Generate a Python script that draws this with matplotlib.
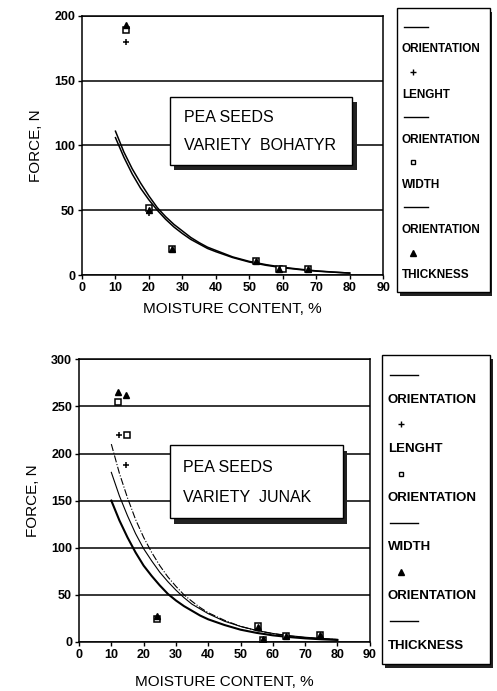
import matplotlib
matplotlib.use("Agg")
import matplotlib.pyplot as plt
from matplotlib.patches import Rectangle

plt.rcParams['font.family'] = ['Liberation Sans', 'DejaVu Sans']

# ---- data ----
curve_x = [10, 12.5, 15, 17.5, 20, 22.5, 25, 27.5, 30, 32.5, 35, 37.5, 40,
           45, 50, 55, 60, 65, 70, 75, 80]

# Bohatyr (top panel)
boh_fit_a = [111, 95, 82, 71, 61, 52, 45, 39, 34, 29, 25, 21.5, 19,
             14, 10.5, 8, 6, 4.5, 3.2, 2.3, 1.5]
boh_fit_b = [106, 91, 78, 67, 58, 50, 43, 37, 32, 27.5, 24, 20.5, 18,
             13.5, 10, 7.5, 5.6, 4.2, 3.0, 2.2, 1.5]
boh_len_x = [13, 20, 27, 52, 59, 67.5]
boh_len_y = [180, 48, 20, 11, 5, 5]
boh_wid_x = [13, 20, 27, 52, 59, 60, 67.5]
boh_wid_y = [189, 52, 20, 11, 5, 4.5, 5]
boh_thk_x = [13, 20, 27, 52, 59, 67.5]
boh_thk_y = [193, 50, 20, 11, 5, 5]

# Junak (bottom panel)
jun_fit_a = [150, 129, 111, 95, 81, 70, 60, 51, 44, 38, 33, 28, 24,
             18, 13, 9.6, 7, 5.2, 3.8, 2.8, 2.1]
jun_fit_b = [180, 155, 134, 115, 99, 86, 74, 64, 55, 47, 40, 35, 30,
             22, 16.5, 12.2, 9, 6.7, 5, 3.7, 2.7]
jun_fit_c = [210, 179, 153, 130, 111, 95, 81, 69, 59, 50, 43, 36.5, 31,
             23, 16.5, 12, 8.8, 6.4, 4.6, 3.4, 2.5]
jun_len_x = [12.5, 14.5, 24, 55.5, 64, 74.5]
jun_len_y = [220, 188, 25, 17, 6, 7.5]
jun_wid_x = [12, 15, 24, 55.5, 57, 64, 74.5]
jun_wid_y = [255, 220, 24, 17, 2, 6, 7.5]
jun_thk_x = [12, 14.5, 24, 55.5, 57, 64, 74.5]
jun_thk_y = [265, 262, 28, 16, 3, 6, 7]

x_ticks = [0, 10, 20, 30, 40, 50, 60, 70, 80, 90]
boh_yticks = [0, 50, 100, 150, 200]
jun_yticks = [0, 50, 100, 150, 200, 250, 300]

boh_legend = ['line', 'ORIENTATION', 'plus', 'LENGHT', 'line', 'ORIENTATION',
              'square', 'WIDTH', 'line', 'ORIENTATION', 'tri', 'THICKNESS']
jun_legend = ['line', 'ORIENTATION', 'plus', 'LENGHT', 'square', 'ORIENTATION',
              'line', 'WIDTH', 'tri', 'ORIENTATION', 'line', 'THICKNESS']

fig = plt.figure(figsize=(4.97, 6.91), dpi=100)


def setup_axes(ax, yticks, ymax, xpad):
    ax.set_xlim(0, 90)
    ax.set_ylim(0, ymax)
    ax.set_xticks(x_ticks)
    ax.set_yticks(yticks)
    for y in yticks:
        ax.axhline(y, color='black', lw=1.1, zorder=1)
    for s in ax.spines.values():
        s.set_linewidth(1.1)
    ax.tick_params(axis='both', labelsize=9, width=1.0, length=3, pad=2)
    for lbl in ax.get_xticklabels() + ax.get_yticklabels():
        lbl.set_fontweight('bold')
    ax.set_ylabel('FORCE, N', fontsize=11, labelpad=8)
    ax.set_xlabel('MOISTURE CONTENT, %', fontsize=11, labelpad=xpad)


def draw_points(ax, lx, ly, wx, wy, tx, ty):
    ax.plot(lx, ly, '+', color='black', ms=4.5, mew=1.1, zorder=3)
    ax.plot(wx, wy, 's', mfc='white', mec='black', ms=4.5, mew=1.1, zorder=3)
    ax.plot(tx, ty, '^', color='black', ms=5, zorder=3)


def text_box(ax, x0, y0, w, h, lines):
    ax.add_patch(Rectangle((x0 + 0.015, y0 - 0.02), w, h, transform=ax.transAxes,
                           facecolor='#222222', edgecolor='none', zorder=4))
    ax.add_patch(Rectangle((x0, y0), w, h, transform=ax.transAxes,
                           facecolor='white', edgecolor='black', lw=1.0, zorder=5))
    ax.text(x0 + 0.045, y0 + h * 0.7, lines[0], transform=ax.transAxes,
            fontsize=11.5, va='center', zorder=6)
    ax.text(x0 + 0.045, y0 + h * 0.28, lines[1], transform=ax.transAxes,
            fontsize=11.5, va='center', zorder=6)


def legend_panel(rect, entries, fsize):
    lax = fig.add_axes(rect)
    lax.set_xlim(0, 1)
    lax.set_ylim(0, 1)
    lax.axis('off')
    lax.add_patch(Rectangle((0.03, -0.012), 0.98, 1.0, transform=lax.transAxes,
                            facecolor='#222222', edgecolor='none', clip_on=False))
    lax.add_patch(Rectangle((0, 0), 0.98, 1.0, transform=lax.transAxes,
                            facecolor='white', edgecolor='black', lw=1.0, clip_on=False))
    n = len(entries)
    top, bot = 0.935, 0.06
    step = (top - bot) / (n - 1)
    for i, e in enumerate(entries):
        y = top - i * step
        if e == 'line':
            lax.plot([0.07, 0.33], [y, y], color='black', lw=1.0)
        elif e == 'plus':
            lax.plot([0.17], [y], '+', color='black', ms=4, mew=1.0)
        elif e == 'square':
            lax.plot([0.17], [y], 's', mfc='white', mec='black', ms=3.5, mew=1.0)
        elif e == 'tri':
            lax.plot([0.17], [y], '^', color='black', ms=4.5)
        else:
            lax.text(0.05, y, e, fontsize=fsize, fontweight='bold', va='center')


# top panel: Bohatyr
ax1 = fig.add_axes([0.165, 0.602, 0.606, 0.375])
setup_axes(ax1, boh_yticks, 200, 6)
ax1.plot(curve_x, boh_fit_a, color='black', lw=1.1, zorder=2)
ax1.plot(curve_x, boh_fit_b, color='black', lw=1.1, zorder=2)
draw_points(ax1, boh_len_x, boh_len_y, boh_wid_x, boh_wid_y, boh_thk_x, boh_thk_y)
text_box(ax1, 0.292, 0.425, 0.605, 0.262, ['PEA SEEDS', 'VARIETY  BOHATYR'])
legend_panel([0.799, 0.577, 0.19, 0.411], boh_legend, 8.5)

# bottom panel: Junak
ax2 = fig.add_axes([0.159, 0.071, 0.585, 0.409])
setup_axes(ax2, jun_yticks, 300, 10)
ax2.plot(curve_x, jun_fit_a, color='black', lw=1.5, zorder=2)
ax2.plot(curve_x, jun_fit_b, color='black', lw=0.8, zorder=2)
ax2.plot(curve_x, jun_fit_c, color='black', lw=0.8, ls='-.', zorder=2)
draw_points(ax2, jun_len_x, jun_len_y, jun_wid_x, jun_wid_y, jun_thk_x, jun_thk_y)
text_box(ax2, 0.313, 0.438, 0.594, 0.258, ['PEA SEEDS', 'VARIETY  JUNAK'])
legend_panel([0.769, 0.039, 0.221, 0.447], jun_legend, 9.5)

fig.savefig('out.png', dpi=100)
